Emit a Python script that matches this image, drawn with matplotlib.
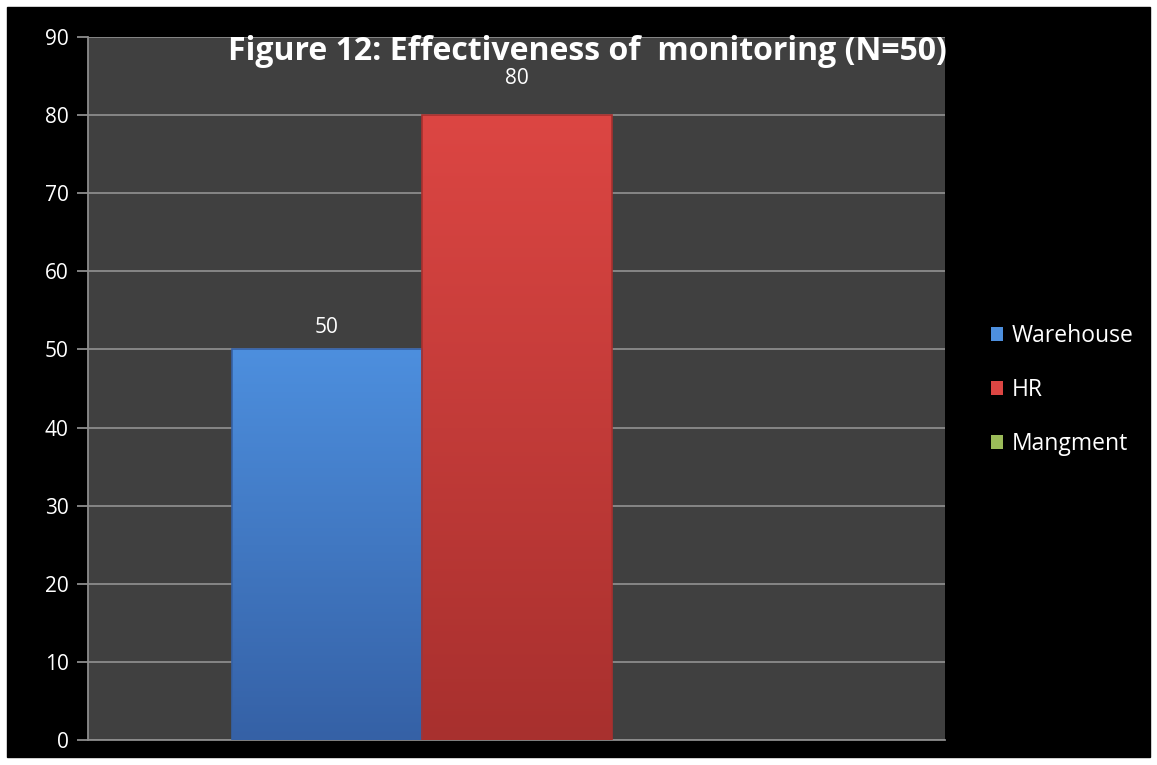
import matplotlib
matplotlib.use("Agg")
import matplotlib.pyplot as plt
import numpy as np
from matplotlib.colors import LinearSegmentedColormap

plt.rcParams['font.family'] = ['Open Sans', 'DejaVu Sans']

series = ['Warehouse', 'HR', 'Mangment']
values = [50, 80, 0]
yticks = [0, 10, 20, 30, 40, 50, 60, 70, 80, 90]
title = 'Figure 12: Effectiveness of  monitoring (N=50)'

top_colors = ['#4d8fde', '#dc4643', '#9bbb59']
bot_colors = ['#3561a6', '#a8302e', '#76923c']
label_pad = [1.5, 3.3, 0]

fig = plt.figure(figsize=(11.57, 7.65), dpi=100)
fig.patch.set_facecolor('white')
# black chart area inside a thin white border
fig.add_artist(plt.Rectangle((7 / 1157, 8 / 765), 1143 / 1157, 750 / 765,
                             transform=fig.transFigure, color='black', zorder=0))

ax = fig.add_axes([88 / 1157, 25 / 765, 857 / 1157, 703 / 765])
ax.set_facecolor('#404040')

w = 190 / 857
offsets = [-w, 0, w]
for s, v, off, tc, bc, pad in zip(series, values, offsets, top_colors, bot_colors, label_pad):
    b = ax.bar(off, v, width=w, color=tc, edgecolor='none', label=s, zorder=2)[0]
    if v > 0:
        cmap = LinearSegmentedColormap.from_list(s, [bc, tc])
        grad = np.linspace(0, 1, 256).reshape(-1, 1)
        im = ax.imshow(grad, cmap=cmap, aspect='auto', origin='lower',
                       extent=[b.get_x(), b.get_x() + b.get_width(), 0, b.get_height()],
                       zorder=3)
        im.set_clip_path(b)
        # thin darker outline like the bevelled excel bars
        ax.bar(off, v, width=w, facecolor='none', edgecolor=bc, linewidth=1.2, zorder=4)
        ax.text(off, v + pad, str(v), ha='center', va='bottom', color='white',
                fontsize=15, zorder=4)

ax.set_xlim(-0.5, 0.5)
ax.set_ylim(0, 90)
ax.set_yticks(yticks)
ax.set_xticks([])
ax.grid(axis='y', color='#8c8c8c', linewidth=1.3, zorder=1)
ax.set_axisbelow(True)
for sp in ['top', 'right']:
    ax.spines[sp].set_visible(False)
ax.spines['left'].set_color('#8c8c8c')
ax.spines['bottom'].set_color('#8c8c8c')
ax.spines['left'].set_linewidth(1.3)
ax.spines['bottom'].set_linewidth(1.3)
ax.tick_params(axis='y', colors='#8c8c8c', length=8, width=1.3, labelcolor='white',
               labelsize=15, pad=6)

ax.text(0.583, 0.98, title, transform=ax.transAxes, ha='center', va='center',
        color='white', fontsize=23, fontweight='bold', zorder=5)

handles = [plt.Rectangle((0, 0), 1, 1, facecolor=c, edgecolor='none') for c in top_colors]
leg = fig.legend(handles, series, loc='center left', bbox_to_anchor=(970 / 1157, 375 / 765),
                 frameon=False, fontsize=16.5, labelcolor='white', handlelength=0.55,
                 handleheight=0.55, handletextpad=0.35, labelspacing=1.3)

fig.savefig('out.png', dpi=100, facecolor=fig.get_facecolor())
